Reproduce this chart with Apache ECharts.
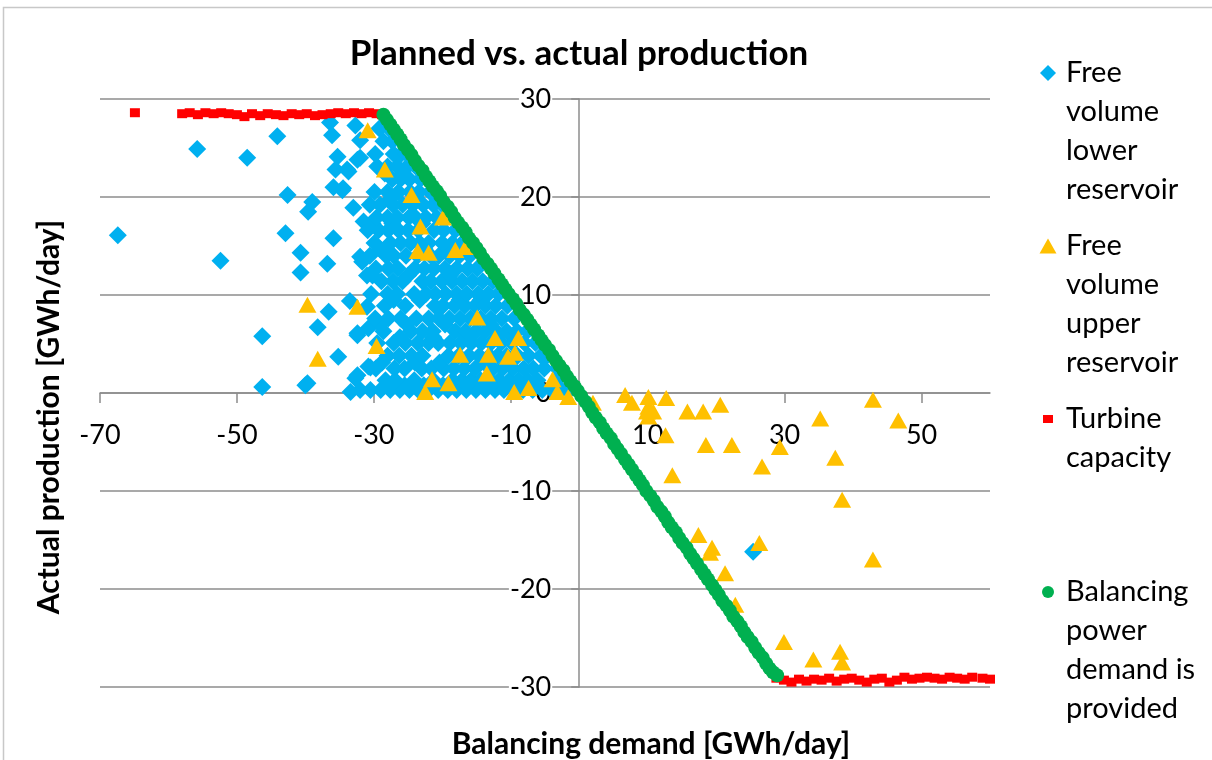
<!DOCTYPE html>
<html>
<head>
<meta charset="utf-8">
<script src="https://cdn.jsdelivr.net/npm/echarts@6/dist/echarts.min.js"></script>
<style>
html,body{margin:0;padding:0;background:#fff;}
#chart{width:1212px;height:760px;}
</style>
</head>
<body>
<div id="chart"></div>
<script>
// ---- Data ----
const titleText = 'Planned vs. actual production';
const xAxisTitle = 'Balancing demand [GWh/day]';
const yAxisTitle = 'Actual production [GWh/day]';
const seriesNames = ['Free volume lower reservoir', 'Free volume upper reservoir', 'Turbine capacity', 'Balancing power demand is provided'];
const legendLabels = ['Free\nvolume\nlower\nreservoir', 'Free\nvolume\nupper\nreservoir', 'Turbine\ncapacity', 'Balancing\npower\ndemand is\nprovided'];

const freeLowerIsolated = [
  [-67.4,16.1],[-55.8,24.9],[-52.4,13.5],[-48.5,24.0],[-46.3,5.8],[-46.3,0.6],[-44.1,26.2],
  [-42.6,20.2],[-42.9,16.3],[-40.7,14.3],[-40.7,12.3],[-40.0,0.8],[-39.0,19.5],[-39.6,18.5],
  [-38.2,6.7],[-36.8,13.2],[-36.6,8.3],[-35.9,15.8],[-35.2,3.7],[-36.4,27.6],[-36.1,26.3],
  [-35.3,24.1],[-35.6,22.8],[-33.7,22.6],[-35.9,21.0],[-34.6,20.7],[-32.0,25.8],[-32.0,24.0],
  [-32.7,27.3],[-32.4,23.8],[-33.9,22.8],[-34.5,20.9],[-31.7,13.4],[-32.0,13.9],[-31.0,12.0],
  [-32.4,5.9],[-30.8,6.6],[-30.8,2.7],[-32.4,1.8],[-33.4,0.1],[-32.0,0.3],[-39.7,1.0],
  [-31.0,8.8],[-32.4,6.1],[-32.7,1.5],[-30.5,2.6],[-33.5,9.4],[-31.5,17.5],[-33.0,18.9],
  [25.4,-16.2]
];
const freeLowerDenseRows = [
  [0.3,[-30.5,-29.0,-27.6,-26.2,-24.8,-23.5,-22.0,-20.6,-19.2,-17.9,-16.5,-15.1,-13.7,-12.3,-11.0,-9.5,-8.2,-6.8,-5.4,-4.0,-2.6,-1.4]],
  [0.8,[-25.5,-22.7,-19.9,-14.8,-10.6,-7.1]],
  [1.3,[-28.3,-26.9,-24.1,-21.3,-18.5,-17.1,-15.8,-14.4,-13.0,-11.7,-10.2,-8.9,-7.5,-6.1,-3.3]],
  [2.5,[-29.7,-27.0,-25.5,-23.0,-21.6,-19.8,-18.3,-16.8,-15.2,-12.6,-11.2,-9.7,-8.1,-6.7,-5.1,-3.2]],
  [3.1,[-28.8,-24.0,-20.4,-13.9,-10.1]],
  [3.8,[-28.0,-26.3,-24.5,-22.9,-19.1,-17.6,-16.1,-14.6,-13.1,-11.9,-10.6,-9.0,-7.4,-5.6,-4.7]],
  [5.1,[-29.5,-27.1,-25.4,-23.6,-22.0,-20.6,-18.9,-17.3,-15.8,-14.3,-12.9,-11.4,-9.8,-8.0,-6.4]],
  [5.7,[-26.2,-21.3,-16.5,-11.9]],
  [6.3,[-28.6,-24.6,-22.9,-21.4,-18.1,-16.6,-15.1,-13.7,-12.1,-10.6,-9.1,-7.6]],
  [7.0,[-29.1,-25.2,-19.6,-13.0]],
  [7.6,[-29.8,-27.9,-26.1,-23.8,-22.0,-20.5,-19.0,-17.4,-15.9,-14.4,-12.9,-11.3,-9.5]],
  [8.9,[-28.4,-25.4,-21.1,-19.9,-18.2,-16.7,-15.2,-13.7,-12.2,-10.5]],
  [9.5,[-27.1,-23.3,-17.5,-14.4]],
  [10.1,[-30.4,-28.0,-26.6,-24.1,-22.4,-21.0,-19.5,-17.9,-16.4,-14.8,-13.3,-11.8]],
  [11.4,[-28.9,-27.2,-25.8,-22.9,-21.7,-20.1,-18.6,-17.1,-15.6,-14.1,-12.6]],
  [12.0,[-30.2,-25.0,-18.9]],
  [12.7,[-29.7,-27.9,-26.5,-24.0,-22.6,-21.2,-19.6,-17.9,-16.3,-14.9]],
  [14.0,[-30.6,-28.2,-27.1,-25.3,-23.6,-21.7,-20.5,-18.9,-17.5,-16.0]],
  [14.7,[-29.1,-22.6,-19.4]],
  [15.3,[-29.9,-27.6,-26.1,-24.6,-23.3,-22.0,-20.0,-18.5,-17.1]],
  [16.6,[-30.9,-29.3,-27.9,-26.4,-25.0,-23.5,-21.2,-19.8,-18.1]],
  [17.3,[-30.2,-27.3,-22.9]],
  [17.9,[-29.6,-28.0,-26.6,-24.9,-23.9,-22.4,-20.8,-19.3]],
  [19.2,[-30.6,-29.1,-27.2,-25.8,-24.3,-22.8,-21.3,-20.0]],
  [19.8,[-27.6,-23.9]],
  [20.5,[-29.9,-28.0,-26.4,-24.7,-23.4,-21.8]],
  [21.8,[-27.3,-26.1,-24.8,-23.2]],
  [22.4,[-28.4,-25.8]],
  [23.1,[-29.5,-28.0,-26.6,-25.1,-23.9]],
  [24.4,[-29.8,-27.1,-26.0,-25.2]],
  [25.7,[-28.6,-27.3,-26.1]],
  [27.0,[-29.2,-27.8]]
];

const freeUpper = [
  [-30.9,26.8],[-28.4,22.8],[-24.5,20.2],[-23.2,17.0],[-19.9,17.9],[-23.6,14.5],[-22.0,14.3],
  [-18.1,14.6],[-16.6,14.9],[-14.9,7.7],[-12.3,5.6],[-8.9,5.6],[-17.4,3.9],[-13.3,3.9],
  [-10.4,3.7],[-9.4,4.1],[-13.5,2.0],[-21.5,1.4],[-19.1,1.0],[-22.5,0.1],[-9.5,0.1],[-7.4,0.5],
  [-3.9,1.4],[-3.2,0.1],[-1.6,-0.4],[-29.6,4.8],[-39.7,9.0],[-32.4,8.8],[-38.2,3.5],
  [2.0,-1.0],[6.7,-0.2],[7.7,-1.0],[10.1,-0.4],[10.1,-1.4],[9.9,-1.9],[10.8,-1.9],[10.1,-2.4],
  [12.7,-0.5],[12.6,-4.3],[15.8,-1.9],[18.1,-1.9],[20.6,-1.2],[18.5,-5.3],[22.3,-5.3],
  [13.6,-8.4],[26.7,-7.5],[29.3,-5.5],[35.2,-2.6],[42.9,-0.7],[46.6,-2.8],[37.4,-6.6],
  [38.4,-10.9],[42.9,-17.0],[17.4,-14.5],[19.4,-15.8],[19.1,-16.3],[21.3,-18.4],[22.8,-21.6],
  [26.3,-15.3],[29.9,-25.4],[34.2,-27.2],[38.1,-26.4],[38.4,-27.5]
];

const turbineCapacity = [
  [-64.9,28.6],[-58.0,28.5],[-56.9,28.6],[-55.7,28.4],[-54.6,28.6],[-53.4,28.5],[-52.3,28.6],
  [-51.2,28.5],[-50.0,28.4],[-48.9,28.2],[-47.8,28.5],[-46.6,28.3],[-45.5,28.5],[-44.3,28.4],
  [-43.2,28.3],[-42.0,28.5],[-40.9,28.4],[-39.8,28.5],[-38.6,28.3],[-37.5,28.4],[-36.3,28.5],
  [-35.2,28.6],[-34.1,28.5],[-32.9,28.6],[-31.8,28.5],[-30.7,28.6],[-29.6,28.5],[-28.8,28.4],
  [28.8,-29.1],[29.9,-29.3],[31.0,-29.5],[32.1,-29.2],[33.2,-29.4],[34.3,-29.2],[35.4,-29.3],
  [36.5,-29.1],[37.6,-29.4],[38.7,-29.2],[39.8,-29.1],[40.9,-29.3],[42.0,-29.5],[43.1,-29.2],
  [44.2,-29.1],[45.3,-29.5],[46.4,-29.3],[47.5,-29.0],[48.6,-29.2],[49.7,-29.1],[50.8,-29.0],
  [51.9,-29.1],[53.0,-29.2],[54.1,-29.0],[55.2,-29.1],[56.3,-29.2],[57.4,-29.0],[58.9,-29.1],
  [60.0,-29.2]
];

const balancingProvided = [
  [-28.6,28.4],[-28.1,27.9],[-27.6,27.4],[-27.1,26.9],[-26.6,26.4],[-26.1,25.9],[-25.6,25.3],
  [-25.0,24.8],[-24.5,24.3],[-24.0,23.7],[-23.5,23.2],[-22.9,22.7],[-22.4,22.1],[-21.9,21.6],
  [-21.4,21.1],[-20.8,20.6],[-20.3,20.1],[-19.8,19.5],[-19.2,19.0],[-18.7,18.5],[-18.2,17.9],
  [-17.7,17.4],[-17.1,16.9],[-16.6,16.4],[-16.1,15.8],[-15.5,15.3],[-15.0,14.8],[-14.5,14.3],
  [-14.0,13.7],[-13.4,13.2],[-12.9,12.7],[-12.4,12.2],[-11.8,11.6],[-11.3,11.1],[-10.8,10.6],
  [-10.3,10.1],[-9.7,9.6],[-9.2,9.1],[-8.7,8.5],[-8.1,8.0],[-7.6,7.5],[-7.1,7.0],[-6.6,6.5],
  [-6.0,5.9],[-5.5,5.4],[-5.0,4.9],[-4.4,4.4],[-3.9,3.8],[-3.4,3.3],[-2.9,2.8],[-2.3,2.3],
  [-1.8,1.7],[-1.3,1.2],[-0.7,0.7],[-0.2,0.2],[0.3,-0.3],[0.9,-0.9],[1.4,-1.4],[1.9,-2.0],
  [2.4,-2.5],[3.0,-3.0],[3.5,-3.6],[4.0,-4.1],[4.6,-4.6],[5.1,-5.2],[5.6,-5.7],[6.1,-6.2],
  [6.7,-6.8],[7.2,-7.3],[7.7,-7.8],[8.3,-8.4],[8.8,-8.9],[9.3,-9.4],[9.8,-10.0],[10.4,-10.5],
  [10.9,-11.0],[11.4,-11.6],[12.0,-12.1],[12.5,-12.6],[13.0,-13.2],[13.5,-13.7],[14.1,-14.2],
  [14.6,-14.8],[15.1,-15.3],[15.7,-15.8],[16.2,-16.4],[16.7,-16.9],[17.2,-17.4],[17.8,-18.0],
  [18.3,-18.5],[18.8,-19.0],[19.4,-19.6],[19.9,-20.1],[20.4,-20.6],[20.9,-21.2],[21.5,-21.7],
  [22.0,-22.2],[22.5,-22.8],[23.1,-23.3],[23.6,-23.8],[24.1,-24.4],[24.6,-24.9],[25.2,-25.4],
  [25.7,-26.0],[26.2,-26.5],[26.8,-27.0],[27.3,-27.6],[27.8,-28.1],[28.3,-28.5],[28.9,-28.8]
];

const xTicks = {min: -70, max: 60, step: 20};
const yTicks = {min: -30, max: 30, step: 10};

// expand dense rows into point pairs
const freeLower = freeLowerIsolated.slice();
freeLowerDenseRows.forEach(function (row) {
  row[1].forEach(function (x) { freeLower.push([x, row[0]]); });
});

// ---- Chart ----
const FONT = 'Lato';
const colors = ['#00B0F0', '#FFC000', '#FF0000', '#00B050'];
const symbols = ['diamond', 'triangle', 'rect', 'circle'];
const legendIconW = [16, 17, 10, 12];
const legendIconH = [16, 15, 8, 12];
const legendIconY = [73, 246, 419, 592];
const LINE_H = 39;

const GRID = {left: 100, right: 222, top: 99, bottom: 73};
const PLOT_W = 1212 - GRID.left - GRID.right;
const PLOT_H = 760 - GRID.top - GRID.bottom;
// move the axes (with their labels) onto the zero lines
const yAxisOffset = -PLOT_W * (0 - xTicks.min) / (xTicks.max - xTicks.min);
const xAxisOffset = -PLOT_H * (0 - yTicks.min) / (yTicks.max - yTicks.min);

function legendText(label) {
  const lines = label.split('\n');
  let pre = '';
  for (let i = 1; i < lines.length; i++) pre += '\n';
  return pre + label;
}

const legends = seriesNames.map(function (name, i) {
  const nLines = legendLabels[i].split('\n').length;
  const totalH = (2 * nLines - 1) * LINE_H;
  return {
    data: [name],
    orient: 'vertical',
    left: 1048 - legendIconW[i] / 2,
    top: legendIconY[i] - totalH / 2,
    padding: 0,
    itemWidth: legendIconW[i],
    itemHeight: legendIconH[i],
    selectedMode: false,
    formatter: function () { return legendText(legendLabels[i]); },
    textStyle: {
      fontFamily: FONT, fontSize: 29, color: '#000', lineHeight: LINE_H,
      padding: [0, 0, 0, 13 - legendIconW[i] / 2]
    }
  };
});

const seriesData = [freeLower, freeUpper, turbineCapacity, balancingProvided];
const symbolSizes = [18, [18, 16], [10, 9], 14];

const chart = echarts.init(document.getElementById('chart'), null, {renderer: 'canvas'});
chart.setOption({
  animation: false,
  backgroundColor: '#ffffff',
  title: {
    text: titleText,
    left: 574,
    top: 31,
    textAlign: 'center',
    textStyle: {fontFamily: FONT, fontSize: 35, fontWeight: 'bold', color: '#000'}
  },
  legend: legends,
  grid: {left: GRID.left, right: GRID.right, top: GRID.top, bottom: GRID.bottom, containLabel: false},
  xAxis: {
    type: 'value', position: 'bottom', offset: xAxisOffset,
    min: xTicks.min, max: xTicks.max, interval: xTicks.step,
    axisLine: {onZero: false, lineStyle: {color: '#8c8c8c', width: 1.5}},
    axisTick: {show: true, length: 10, lineStyle: {color: '#8c8c8c', width: 1.5}},
    axisLabel: {margin: 29, fontFamily: FONT, fontSize: 27, color: '#000', showMaxLabel: false},
    splitLine: {show: false}
  },
  yAxis: {
    type: 'value', position: 'left', offset: yAxisOffset,
    min: yTicks.min, max: yTicks.max, interval: yTicks.step,
    axisLine: {onZero: false, lineStyle: {color: '#8c8c8c', width: 1.5}},
    axisTick: {show: true, length: 8, lineStyle: {color: '#8c8c8c', width: 1.5}},
    axisLabel: {margin: 27, fontFamily: FONT, fontSize: 27, color: '#000', backgroundColor: '#fff', padding: [0, 1]},
    splitLine: {show: true, lineStyle: {color: '#8c8c8c', width: 1.5}}
  },
  graphic: [
    {type: 'rect', shape: {x: 3.5, y: 7.5, width: 1220, height: 770}, style: {fill: 'none', stroke: '#c8c8c8', lineWidth: 1.5}, silent: true, z: -1},
    {type: 'text', x: 651, y: 744, style: {text: xAxisTitle, font: 'bold 30px ' + FONT, fill: '#000', align: 'center', verticalAlign: 'middle'}},
    {type: 'text', x: 49, y: 417, rotation: Math.PI / 2, style: {text: yAxisTitle, font: 'bold 30px ' + FONT, fill: '#000', align: 'center', verticalAlign: 'middle'}}
  ],
  series: seriesData.map(function (d, i) {
    return {
      name: seriesNames[i],
      type: 'scatter',
      data: d,
      symbol: symbols[i],
      symbolSize: symbolSizes[i],
      itemStyle: {color: colors[i], opacity: 1},
      emphasis: {disabled: true},
      z: 2 + i
    };
  })
});
</script>
</body>
</html>
